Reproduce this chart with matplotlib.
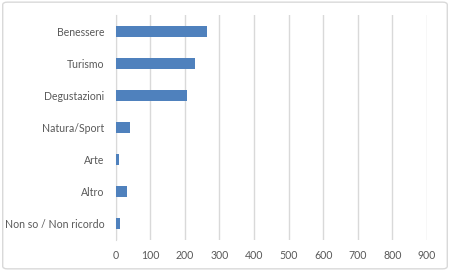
import matplotlib
matplotlib.use("Agg")
import matplotlib.pyplot as plt
from matplotlib.patches import FancyBboxPatch

categories = ["Benessere", "Turismo", "Degustazioni", "Natura/Sport", "Arte", "Altro", "Non so / Non ricordo"]
values = [265, 231, 208, 43, 11, 32, 14]
xticks = [0, 100, 200, 300, 400, 500, 600, 700, 800, 900]

plt.rcParams["font.family"] = ["Lato", "DejaVu Sans"]

fig = plt.figure(figsize=(4.5, 2.71), dpi=100)
border = FancyBboxPatch((0.006, 0.008), 0.988, 0.984, boxstyle="round,pad=0,rounding_size=0.01",
                        transform=fig.transFigure, fc="none", ec="#d9d9d9", lw=1, zorder=-10)
fig.add_artist(border)
ax = fig.add_axes([0.2567, 0.1144, 0.692, 0.8302])

y = list(range(len(categories)))
ax.barh(y, values, height=0.34, color="#4F81BD", zorder=3)
ax.set_ylim(len(categories) - 0.5, -0.5)
ax.set_yticks(y)
ax.set_yticklabels(categories)
ax.set_xlim(0, 900)
ax.set_xticks(xticks)

ax.grid(axis="x", color="#d9d9d9", lw=1, zorder=0)
for s in ["top", "right", "bottom"]:
    ax.spines[s].set_visible(False)
ax.spines["left"].set_color("#d9d9d9")
ax.tick_params(length=0, labelsize=7.6, colors="#595959")
ax.tick_params(axis="y", pad=8)
ax.tick_params(axis="x", pad=7)
ax.patch.set_alpha(0)

fig.savefig("out.png", dpi=100)
